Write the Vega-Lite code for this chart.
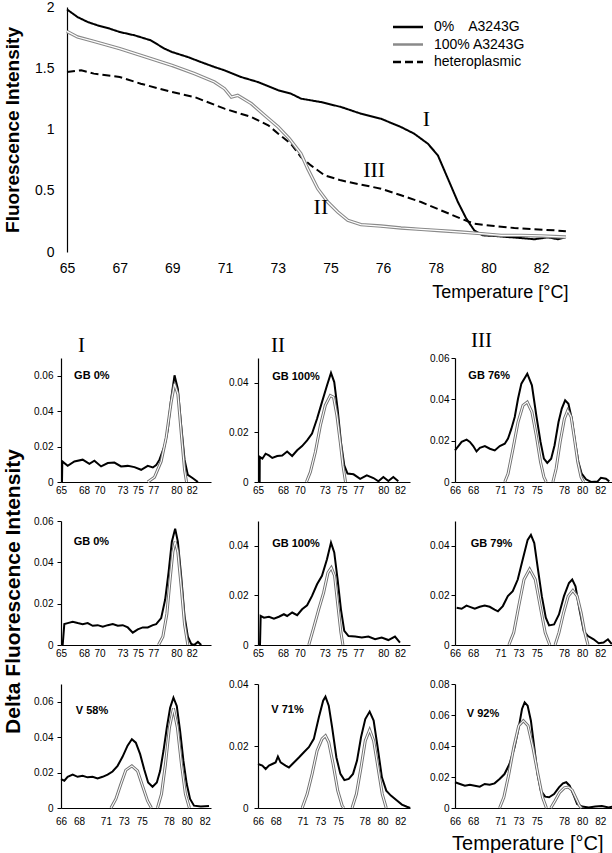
{
"$schema": "https://vega.github.io/schema/vega-lite/v6.json",
"background": "white",
"padding": {"left": 2, "top": 0, "right": 0, "bottom": 0},
"config": {
 "view": {"stroke": null},
 "font": "Liberation Sans",
 "axis": {"grid": false, "domainColor": "black", "domainWidth": 1.2, "labelColor": "black", "tickColor": "black", "titleColor": "black", "labelFont": "Liberation Sans", "titleFont": "Liberation Sans", "labelFlush": false, "labelOverlap": false},
 "axisX": {"ticks": false, "labelFontSize": 10, "labelPadding": 3},
 "axisY": {"tickSize": 4, "labelFontSize": 10, "labelPadding": 4},
 "title": {"color": "black"}
},
"datasets": {
 "top": [
  {"s":"\u20070%\u2002\u2002A3243G","i":0,"v":1.98},{"s":"\u20070%\u2002\u2002A3243G","i":0.2,"v":1.918},{"s":"\u20070%\u2002\u2002A3243G","i":0.39,"v":1.878},{"s":"\u20070%\u2002\u2002A3243G","i":0.58,"v":1.85},{"s":"\u20070%\u2002\u2002A3243G","i":0.77,"v":1.829},{"s":"\u20070%\u2002\u2002A3243G","i":1.0,"v":1.796},{"s":"\u20070%\u2002\u2002A3243G","i":1.28,"v":1.769},{"s":"\u20070%\u2002\u2002A3243G","i":1.59,"v":1.728},{"s":"\u20070%\u2002\u2002A3243G","i":1.85,"v":1.66},{"s":"\u20070%\u2002\u2002A3243G","i":1.99,"v":1.633},{"s":"\u20070%\u2002\u2002A3243G","i":2.29,"v":1.592},{"s":"\u20070%\u2002\u2002A3243G","i":2.54,"v":1.551},{"s":"\u20070%\u2002\u2002A3243G","i":2.8,"v":1.51},{"s":"\u20070%\u2002\u2002A3243G","i":2.99,"v":1.483},{"s":"\u20070%\u2002\u2002A3243G","i":3.3,"v":1.429},{"s":"\u20070%\u2002\u2002A3243G","i":3.62,"v":1.388},{"s":"\u20070%\u2002\u2002A3243G","i":4.01,"v":1.32},{"s":"\u20070%\u2002\u2002A3243G","i":4.25,"v":1.293},{"s":"\u20070%\u2002\u2002A3243G","i":4.44,"v":1.252},{"s":"\u20070%\u2002\u2002A3243G","i":4.82,"v":1.224},{"s":"\u20070%\u2002\u2002A3243G","i":5.2,"v":1.184},{"s":"\u20070%\u2002\u2002A3243G","i":5.58,"v":1.129},{"s":"\u20070%\u2002\u2002A3243G","i":5.96,"v":1.088},{"s":"\u20070%\u2002\u2002A3243G","i":6.34,"v":1.02},{"s":"\u20070%\u2002\u2002A3243G","i":6.59,"v":0.966},{"s":"\u20070%\u2002\u2002A3243G","i":6.85,"v":0.884},{"s":"\u20070%\u2002\u2002A3243G","i":7.04,"v":0.789},{"s":"\u20070%\u2002\u2002A3243G","i":7.23,"v":0.599},{"s":"\u20070%\u2002\u2002A3243G","i":7.42,"v":0.408},{"s":"\u20070%\u2002\u2002A3243G","i":7.58,"v":0.272},{"s":"\u20070%\u2002\u2002A3243G","i":7.73,"v":0.177},{"s":"\u20070%\u2002\u2002A3243G","i":7.89,"v":0.136},{"s":"\u20070%\u2002\u2002A3243G","i":8.11,"v":0.131},{"s":"\u20070%\u2002\u2002A3243G","i":8.37,"v":0.122},{"s":"\u20070%\u2002\u2002A3243G","i":8.62,"v":0.114},{"s":"\u20070%\u2002\u2002A3243G","i":8.87,"v":0.104},{"s":"\u20070%\u2002\u2002A3243G","i":9.13,"v":0.12},{"s":"\u20070%\u2002\u2002A3243G","i":9.32,"v":0.104},{"s":"\u20070%\u2002\u2002A3243G","i":9.47,"v":0.122},
  {"s":"100% A3243G","i":0,"v":1.801},{"s":"100% A3243G","i":0.2,"v":1.755},{"s":"100% A3243G","i":0.51,"v":1.72},{"s":"100% A3243G","i":1.0,"v":1.66},{"s":"100% A3243G","i":1.4,"v":1.605},{"s":"100% A3243G","i":1.99,"v":1.524},{"s":"100% A3243G","i":2.42,"v":1.456},{"s":"100% A3243G","i":2.8,"v":1.388},{"s":"100% A3243G","i":2.99,"v":1.333},{"s":"100% A3243G","i":3.12,"v":1.265},{"s":"100% A3243G","i":3.24,"v":1.279},{"s":"100% A3243G","i":3.5,"v":1.211},{"s":"100% A3243G","i":3.75,"v":1.116},{"s":"100% A3243G","i":4.01,"v":1.02},{"s":"100% A3243G","i":4.22,"v":0.925},{"s":"100% A3243G","i":4.44,"v":0.803},{"s":"100% A3243G","i":4.57,"v":0.68},{"s":"100% A3243G","i":4.76,"v":0.517},{"s":"100% A3243G","i":4.95,"v":0.408},{"s":"100% A3243G","i":5.14,"v":0.327},{"s":"100% A3243G","i":5.33,"v":0.259},{"s":"100% A3243G","i":5.58,"v":0.223},{"s":"100% A3243G","i":5.96,"v":0.212},{"s":"100% A3243G","i":6.34,"v":0.196},{"s":"100% A3243G","i":6.72,"v":0.185},{"s":"100% A3243G","i":7.1,"v":0.174},{"s":"100% A3243G","i":7.48,"v":0.163},{"s":"100% A3243G","i":7.86,"v":0.15},{"s":"100% A3243G","i":8.24,"v":0.136},{"s":"100% A3243G","i":8.62,"v":0.136},{"s":"100% A3243G","i":9.0,"v":0.131},{"s":"100% A3243G","i":9.47,"v":0.122},
  {"s":"heteroplasmic","i":0,"v":1.469},{"s":"heteroplasmic","i":0.27,"v":1.483},{"s":"heteroplasmic","i":0.51,"v":1.456},{"s":"heteroplasmic","i":1.0,"v":1.429},{"s":"heteroplasmic","i":1.4,"v":1.374},{"s":"heteroplasmic","i":1.99,"v":1.306},{"s":"heteroplasmic","i":2.42,"v":1.265},{"s":"heteroplasmic","i":2.99,"v":1.17},{"s":"heteroplasmic","i":3.5,"v":1.102},{"s":"heteroplasmic","i":3.82,"v":1.034},{"s":"heteroplasmic","i":4.01,"v":0.966},{"s":"heteroplasmic","i":4.25,"v":0.884},{"s":"heteroplasmic","i":4.44,"v":0.776},{"s":"heteroplasmic","i":4.63,"v":0.707},{"s":"heteroplasmic","i":4.89,"v":0.626},{"s":"heteroplasmic","i":5.2,"v":0.585},{"s":"heteroplasmic","i":5.58,"v":0.55},{"s":"heteroplasmic","i":5.96,"v":0.517},{"s":"heteroplasmic","i":6.34,"v":0.463},{"s":"heteroplasmic","i":6.72,"v":0.408},{"s":"heteroplasmic","i":7.1,"v":0.34},{"s":"heteroplasmic","i":7.48,"v":0.272},{"s":"heteroplasmic","i":7.73,"v":0.231},{"s":"heteroplasmic","i":8.11,"v":0.212},{"s":"heteroplasmic","i":8.49,"v":0.196},{"s":"heteroplasmic","i":8.87,"v":0.185},{"s":"heteroplasmic","i":9.25,"v":0.177},{"s":"heteroplasmic","i":9.47,"v":0.169}
 ],
 "p1": [
  {"c":"d","t":65.13,"v":0},{"c":"d","t":65.17,"v":0.0116},{"c":"d","t":65.87,"v":0.0091},{"c":"d","t":66.74,"v":0.0116},{"c":"d","t":67.82,"v":0.0126},{"c":"d","t":68.69,"v":0.0103},{"c":"d","t":69.34,"v":0.012},{"c":"d","t":70.21,"v":0.0088},{"c":"d","t":71.08,"v":0.0107},{"c":"d","t":71.94,"v":0.011},{"c":"d","t":72.81,"v":0.0088},{"c":"d","t":73.68,"v":0.0091},{"c":"d","t":74.55,"v":0.0084},{"c":"d","t":75.42,"v":0.0069},{"c":"d","t":76.28,"v":0.0091},{"c":"d","t":76.94,"v":0.0082},{"c":"d","t":77.37,"v":0.0095},{"c":"d","t":77.8,"v":0.0126},{"c":"d","t":78.45,"v":0.0202},{"c":"d","t":78.89,"v":0.0297},{"c":"d","t":79.32,"v":0.0469},{"c":"d","t":79.76,"v":0.0602},{"c":"d","t":80.19,"v":0.0526},{"c":"d","t":80.63,"v":0.0316},{"c":"d","t":81.06,"v":0.0126},{"c":"d","t":81.49,"v":0.004},{"c":"d","t":82.14,"v":0.0021},{"c":"d","t":82.8,"v":0},
  {"c":"f1","t":76.28,"v":0},{"c":"f1","t":77.15,"v":0.0027},{"c":"f1","t":78.02,"v":0.0116},{"c":"f1","t":78.67,"v":0.025},{"c":"f1","t":79.32,"v":0.045},{"c":"f1","t":79.76,"v":0.0554},{"c":"f1","t":80.19,"v":0.0497},{"c":"f1","t":80.63,"v":0.0278},{"c":"f1","t":81.06,"v":0.0069},{"c":"f1","t":81.32,"v":0}
 ],
 "p2": [
  {"c":"d","t":65.2,"v":0},{"c":"d","t":65.21,"v":0.0101},{"c":"d","t":65.52,"v":0.0094},{"c":"d","t":65.91,"v":0.0114},{"c":"d","t":66.31,"v":0.0107},{"c":"d","t":66.71,"v":0.0097},{"c":"d","t":67.3,"v":0.0105},{"c":"d","t":67.9,"v":0.0107},{"c":"d","t":68.49,"v":0.0123},{"c":"d","t":69.09,"v":0.0105},{"c":"d","t":69.69,"v":0.0128},{"c":"d","t":70.28,"v":0.0145},{"c":"d","t":70.88,"v":0.0168},{"c":"d","t":71.47,"v":0.0195},{"c":"d","t":72.07,"v":0.0255},{"c":"d","t":72.66,"v":0.0322},{"c":"d","t":73.26,"v":0.0389},{"c":"d","t":73.74,"v":0.044},{"c":"d","t":74.13,"v":0.0403},{"c":"d","t":74.53,"v":0.0295},{"c":"d","t":74.93,"v":0.0161},{"c":"d","t":75.33,"v":0.0067},{"c":"d","t":75.72,"v":0.0034},{"c":"d","t":76.44,"v":0.0031},{"c":"d","t":77.23,"v":0.0013},{"c":"d","t":78.03,"v":0.0027},{"c":"d","t":78.82,"v":0.0016},{"c":"d","t":79.42,"v":0.0003},{"c":"d","t":80.01,"v":0.002},{"c":"d","t":80.61,"v":0.0004},{"c":"d","t":81.2,"v":0.002},{"c":"d","t":81.8,"v":0.0003},
  {"c":"f1","t":70.8,"v":0},{"c":"f1","t":71.27,"v":0.004},{"c":"f1","t":71.87,"v":0.0121},{"c":"f1","t":72.47,"v":0.0228},{"c":"f1","t":73.06,"v":0.0309},{"c":"f1","t":73.66,"v":0.0349},{"c":"f1","t":74.05,"v":0.0342},{"c":"f1","t":74.45,"v":0.0268},{"c":"f1","t":74.85,"v":0.0161},{"c":"f1","t":75.17,"v":0.0067},{"c":"f1","t":75.48,"v":0}
 ],
 "p3": [
  {"c":"d","t":66,"v":0.0153},{"c":"d","t":66.37,"v":0.0174},{"c":"d","t":66.73,"v":0.0194},{"c":"d","t":67.28,"v":0.0205},{"c":"d","t":67.64,"v":0.0194},{"c":"d","t":68.01,"v":0.0174},{"c":"d","t":68.37,"v":0.0148},{"c":"d","t":68.74,"v":0.0165},{"c":"d","t":69.29,"v":0.0174},{"c":"d","t":69.84,"v":0.0161},{"c":"d","t":70.38,"v":0.0153},{"c":"d","t":70.93,"v":0.0174},{"c":"d","t":71.48,"v":0.0185},{"c":"d","t":71.84,"v":0.021},{"c":"d","t":72.21,"v":0.0258},{"c":"d","t":72.58,"v":0.0315},{"c":"d","t":72.94,"v":0.0403},{"c":"d","t":73.31,"v":0.0476},{"c":"d","t":73.96,"v":0.0524},{"c":"d","t":74.47,"v":0.0468},{"c":"d","t":74.95,"v":0.0323},{"c":"d","t":75.42,"v":0.0194},{"c":"d","t":75.79,"v":0.0113},{"c":"d","t":76.16,"v":0.0092},{"c":"d","t":76.59,"v":0.0113},{"c":"d","t":76.96,"v":0.0177},{"c":"d","t":77.4,"v":0.029},{"c":"d","t":77.76,"v":0.0355},{"c":"d","t":78.13,"v":0.0395},{"c":"d","t":78.49,"v":0.0379},{"c":"d","t":78.86,"v":0.0306},{"c":"d","t":79.22,"v":0.0194},{"c":"d","t":79.59,"v":0.0097},{"c":"d","t":79.95,"v":0.004},{"c":"d","t":80.43,"v":0.0013},{"c":"d","t":80.98,"v":0},{"c":"d","t":81.71,"v":0.0003},{"c":"d","t":82.07,"v":0.002},{"c":"d","t":82.62,"v":0.0016},{"c":"d","t":82.99,"v":0.0003},
  {"c":"f1","t":71.48,"v":0},{"c":"f1","t":71.84,"v":0.004},{"c":"f1","t":72.39,"v":0.0161},{"c":"f1","t":72.94,"v":0.029},{"c":"f1","t":73.49,"v":0.0371},{"c":"f1","t":73.96,"v":0.0387},{"c":"f1","t":74.47,"v":0.0339},{"c":"f1","t":74.95,"v":0.0226},{"c":"f1","t":75.42,"v":0.0097},{"c":"f1","t":75.79,"v":0.0024},{"c":"f1","t":76.05,"v":0},
  {"c":"f2","t":76.78,"v":0},{"c":"f2","t":77.14,"v":0.0065},{"c":"f2","t":77.58,"v":0.0194},{"c":"f2","t":78.05,"v":0.0306},{"c":"f2","t":78.42,"v":0.0347},{"c":"f2","t":78.79,"v":0.0315},{"c":"f2","t":79.15,"v":0.021},{"c":"f2","t":79.52,"v":0.0097},{"c":"f2","t":79.88,"v":0.0024},{"c":"f2","t":80.17,"v":0}
 ],
 "p4": [
  {"c":"d","t":65.22,"v":0},{"c":"d","t":65.43,"v":0.0101},{"c":"d","t":65.87,"v":0.0106},{"c":"d","t":66.52,"v":0.0112},{"c":"d","t":67.17,"v":0.0106},{"c":"d","t":67.82,"v":0.0101},{"c":"d","t":68.47,"v":0.0106},{"c":"d","t":69.12,"v":0.0093},{"c":"d","t":69.77,"v":0.0096},{"c":"d","t":70.43,"v":0.0089},{"c":"d","t":71.08,"v":0.0096},{"c":"d","t":71.73,"v":0.0101},{"c":"d","t":72.38,"v":0.0093},{"c":"d","t":73.03,"v":0.0096},{"c":"d","t":73.68,"v":0.0085},{"c":"d","t":74.33,"v":0.006},{"c":"d","t":74.98,"v":0.0076},{"c":"d","t":75.63,"v":0.0085},{"c":"d","t":76.28,"v":0.0085},{"c":"d","t":76.94,"v":0.0096},{"c":"d","t":77.37,"v":0.0101},{"c":"d","t":78.02,"v":0.013},{"c":"d","t":78.54,"v":0.022},{"c":"d","t":78.98,"v":0.035},{"c":"d","t":79.41,"v":0.05},{"c":"d","t":79.84,"v":0.0563},{"c":"d","t":80.19,"v":0.05},{"c":"d","t":80.63,"v":0.033},{"c":"d","t":81.06,"v":0.014},{"c":"d","t":81.49,"v":0.004},{"c":"d","t":81.93,"v":0.0005},{"c":"d","t":82.3,"v":0},{"c":"d","t":82.8,"v":0.0015},{"c":"d","t":83.23,"v":0},
  {"c":"f1","t":77.67,"v":0},{"c":"f1","t":78.24,"v":0.004},{"c":"f1","t":78.76,"v":0.015},{"c":"f1","t":79.19,"v":0.032},{"c":"f1","t":79.54,"v":0.045},{"c":"f1","t":79.84,"v":0.0502},{"c":"f1","t":80.19,"v":0.045},{"c":"f1","t":80.63,"v":0.028},{"c":"f1","t":81.06,"v":0.01},{"c":"f1","t":81.49,"v":0}
 ],
 "p5": [
  {"c":"d","t":65.24,"v":0},{"c":"d","t":65.32,"v":0.0117},{"c":"d","t":65.71,"v":0.011},{"c":"d","t":66.31,"v":0.0114},{"c":"d","t":66.91,"v":0.0106},{"c":"d","t":67.5,"v":0.0114},{"c":"d","t":68.1,"v":0.0124},{"c":"d","t":68.49,"v":0.0117},{"c":"d","t":69.09,"v":0.0131},{"c":"d","t":69.69,"v":0.012},{"c":"d","t":70.28,"v":0.0144},{"c":"d","t":70.88,"v":0.016},{"c":"d","t":71.47,"v":0.0198},{"c":"d","t":72.07,"v":0.0245},{"c":"d","t":72.66,"v":0.0279},{"c":"d","t":73.26,"v":0.0346},{"c":"d","t":73.74,"v":0.0413},{"c":"d","t":74.13,"v":0.0373},{"c":"d","t":74.53,"v":0.0265},{"c":"d","t":74.93,"v":0.0144},{"c":"d","t":75.33,"v":0.0057},{"c":"d","t":75.84,"v":0.0036},{"c":"d","t":76.64,"v":0.0034},{"c":"d","t":77.43,"v":0.003},{"c":"d","t":78.22,"v":0.0034},{"c":"d","t":79.02,"v":0.0023},{"c":"d","t":79.81,"v":0.003},{"c":"d","t":80.61,"v":0.002},{"c":"d","t":81.4,"v":0.0034},{"c":"d","t":82,"v":0.001},
  {"c":"f1","t":71.08,"v":0},{"c":"f1","t":71.67,"v":0.007},{"c":"f1","t":72.27,"v":0.0144},{"c":"f1","t":72.86,"v":0.0211},{"c":"f1","t":73.38,"v":0.0292},{"c":"f1","t":73.78,"v":0.0312},{"c":"f1","t":74.17,"v":0.0279},{"c":"f1","t":74.57,"v":0.0158},{"c":"f1","t":74.93,"v":0.005},{"c":"f1","t":75.17,"v":0}
 ],
 "p6": [
  {"c":"d","t":66.18,"v":0.015},{"c":"d","t":66.73,"v":0.0146},{"c":"d","t":67.27,"v":0.0159},{"c":"d","t":67.64,"v":0.0154},{"c":"d","t":68.18,"v":0.0146},{"c":"d","t":68.73,"v":0.0154},{"c":"d","t":69.27,"v":0.0159},{"c":"d","t":69.82,"v":0.0154},{"c":"d","t":70.36,"v":0.0143},{"c":"d","t":70.73,"v":0.0136},{"c":"d","t":71.27,"v":0.0157},{"c":"d","t":71.82,"v":0.0197},{"c":"d","t":72.36,"v":0.0217},{"c":"d","t":72.91,"v":0.0264},{"c":"d","t":73.45,"v":0.0344},{"c":"d","t":74,"v":0.0424},{"c":"d","t":74.36,"v":0.0444},{"c":"d","t":74.73,"v":0.0411},{"c":"d","t":75.09,"v":0.0317},{"c":"d","t":75.56,"v":0.0197},{"c":"d","t":76,"v":0.011},{"c":"d","t":76.36,"v":0.0079},{"c":"d","t":76.91,"v":0.0083},{"c":"d","t":77.45,"v":0.0123},{"c":"d","t":78,"v":0.0197},{"c":"d","t":78.55,"v":0.025},{"c":"d","t":78.91,"v":0.0264},{"c":"d","t":79.27,"v":0.0237},{"c":"d","t":79.71,"v":0.0143},{"c":"d","t":80.18,"v":0.0056},{"c":"d","t":80.65,"v":0.0036},{"c":"d","t":81.27,"v":0.0023},{"c":"d","t":81.82,"v":0.0007},{"c":"d","t":82.36,"v":0.001},{"c":"d","t":82.84,"v":0.0023},{"c":"d","t":83.27,"v":0.0003},
  {"c":"f1","t":71.93,"v":0},{"c":"f1","t":72.47,"v":0.005},{"c":"f1","t":73.02,"v":0.0157},{"c":"f1","t":73.6,"v":0.0264},{"c":"f1","t":74.22,"v":0.0306},{"c":"f1","t":74.84,"v":0.0264},{"c":"f1","t":75.38,"v":0.0157},{"c":"f1","t":75.93,"v":0.005},{"c":"f1","t":76.44,"v":0},
  {"c":"f2","t":77.02,"v":0},{"c":"f2","t":77.45,"v":0.005},{"c":"f2","t":77.96,"v":0.013},{"c":"f2","t":78.47,"v":0.0197},{"c":"f2","t":78.98,"v":0.022},{"c":"f2","t":79.45,"v":0.0197},{"c":"f2","t":79.89,"v":0.013},{"c":"f2","t":80.29,"v":0.005},{"c":"f2","t":80.65,"v":0}
 ],
 "p7": [
  {"c":"d","t":66,"v":0.0163},{"c":"d","t":66.37,"v":0.0154},{"c":"d","t":66.74,"v":0.0176},{"c":"d","t":67.3,"v":0.0188},{"c":"d","t":67.85,"v":0.0176},{"c":"d","t":68.41,"v":0.0182},{"c":"d","t":68.96,"v":0.0173},{"c":"d","t":69.52,"v":0.0176},{"c":"d","t":70.07,"v":0.0167},{"c":"d","t":70.63,"v":0.0176},{"c":"d","t":71.19,"v":0.0188},{"c":"d","t":71.74,"v":0.0206},{"c":"d","t":72.3,"v":0.0238},{"c":"d","t":72.85,"v":0.0289},{"c":"d","t":73.41,"v":0.0352},{"c":"d","t":73.89,"v":0.0388},{"c":"d","t":74.33,"v":0.0369},{"c":"d","t":74.81,"v":0.0304},{"c":"d","t":75.26,"v":0.0219},{"c":"d","t":75.7,"v":0.0144},{"c":"d","t":76.19,"v":0.012},{"c":"d","t":76.67,"v":0.0144},{"c":"d","t":77.04,"v":0.021},{"c":"d","t":77.41,"v":0.0323},{"c":"d","t":77.78,"v":0.0454},{"c":"d","t":78.15,"v":0.0566},{"c":"d","t":78.52,"v":0.0623},{"c":"d","t":78.89,"v":0.0576},{"c":"d","t":79.26,"v":0.0435},{"c":"d","t":79.63,"v":0.0266},{"c":"d","t":80,"v":0.0135},{"c":"d","t":80.37,"v":0.0051},{"c":"d","t":80.81,"v":0.0013},{"c":"d","t":81.56,"v":0.0008},{"c":"d","t":82.48,"v":0.0011},
  {"c":"f1","t":71.56,"v":0},{"c":"f1","t":72.11,"v":0.0051},{"c":"f1","t":72.67,"v":0.0135},{"c":"f1","t":73.22,"v":0.0214},{"c":"f1","t":73.89,"v":0.0238},{"c":"f1","t":74.52,"v":0.021},{"c":"f1","t":75.07,"v":0.0126},{"c":"f1","t":75.63,"v":0.0041},{"c":"f1","t":76.07,"v":0},
  {"c":"f2","t":76.74,"v":0},{"c":"f2","t":77.19,"v":0.0079},{"c":"f2","t":77.63,"v":0.0248},{"c":"f2","t":78.07,"v":0.0454},{"c":"f2","t":78.52,"v":0.0563},{"c":"f2","t":78.96,"v":0.0454},{"c":"f2","t":79.41,"v":0.0248},{"c":"f2","t":79.85,"v":0.0079},{"c":"f2","t":80.3,"v":0}
 ],
 "p8": [
  {"c":"d","t":66,"v":0.0142},{"c":"d","t":66.49,"v":0.0137},{"c":"d","t":66.86,"v":0.0126},{"c":"d","t":67.23,"v":0.0137},{"c":"d","t":67.61,"v":0.0142},{"c":"d","t":67.98,"v":0.0147},{"c":"d","t":68.24,"v":0.0166},{"c":"d","t":68.54,"v":0.0147},{"c":"d","t":69.1,"v":0.0137},{"c":"d","t":69.48,"v":0.0131},{"c":"d","t":70.04,"v":0.0147},{"c":"d","t":70.6,"v":0.0163},{"c":"d","t":71.16,"v":0.018},{"c":"d","t":71.72,"v":0.0196},{"c":"d","t":72.28,"v":0.0223},{"c":"d","t":72.84,"v":0.0292},{"c":"d","t":73.33,"v":0.0346},{"c":"d","t":73.59,"v":0.0359},{"c":"d","t":73.96,"v":0.033},{"c":"d","t":74.34,"v":0.026},{"c":"d","t":74.82,"v":0.0163},{"c":"d","t":75.27,"v":0.011},{"c":"d","t":75.72,"v":0.009},{"c":"d","t":76.21,"v":0.0094},{"c":"d","t":76.69,"v":0.011},{"c":"d","t":77.14,"v":0.0153},{"c":"d","t":77.59,"v":0.0228},{"c":"d","t":78.07,"v":0.0287},{"c":"d","t":78.56,"v":0.0311},{"c":"d","t":79.01,"v":0.0282},{"c":"d","t":79.46,"v":0.0196},{"c":"d","t":79.94,"v":0.0099},{"c":"d","t":80.43,"v":0.0056},{"c":"d","t":80.95,"v":0.004},{"c":"d","t":81.63,"v":0.0024},{"c":"d","t":82.19,"v":0.0011},{"c":"d","t":82.75,"v":0.0004},{"c":"d","t":83.12,"v":0},
  {"c":"f1","t":70.97,"v":0},{"c":"f1","t":71.53,"v":0.0045},{"c":"f1","t":72.09,"v":0.011},{"c":"f1","t":72.65,"v":0.0185},{"c":"f1","t":73.21,"v":0.0223},{"c":"f1","t":73.59,"v":0.0233},{"c":"f1","t":73.96,"v":0.0212},{"c":"f1","t":74.45,"v":0.0142},{"c":"f1","t":74.97,"v":0.0056},{"c":"f1","t":75.46,"v":0.0008},{"c":"f1","t":75.64,"v":0},
  {"c":"f2","t":76.58,"v":0},{"c":"f2","t":77.07,"v":0.0045},{"c":"f2","t":77.59,"v":0.0131},{"c":"f2","t":78.07,"v":0.0217},{"c":"f2","t":78.56,"v":0.0252},{"c":"f2","t":79.01,"v":0.0217},{"c":"f2","t":79.5,"v":0.0131},{"c":"f2","t":79.98,"v":0.0045},{"c":"f2","t":80.43,"v":0}
 ],
 "p9": [
  {"c":"d","t":66,"v":0.0166},{"c":"d","t":66.55,"v":0.0155},{"c":"d","t":67.09,"v":0.0144},{"c":"d","t":67.64,"v":0.015},{"c":"d","t":68.18,"v":0.0144},{"c":"d","t":68.73,"v":0.0138},{"c":"d","t":69.27,"v":0.0155},{"c":"d","t":69.82,"v":0.015},{"c":"d","t":70.36,"v":0.0159},{"c":"d","t":70.91,"v":0.0187},{"c":"d","t":71.45,"v":0.0219},{"c":"d","t":72,"v":0.0284},{"c":"d","t":72.55,"v":0.0391},{"c":"d","t":73.02,"v":0.052},{"c":"d","t":73.38,"v":0.0639},{"c":"d","t":73.67,"v":0.0682},{"c":"d","t":74,"v":0.066},{"c":"d","t":74.36,"v":0.0563},{"c":"d","t":74.73,"v":0.0391},{"c":"d","t":75.09,"v":0.0219},{"c":"d","t":75.45,"v":0.0112},{"c":"d","t":75.93,"v":0.0073},{"c":"d","t":76.36,"v":0.0069},{"c":"d","t":76.91,"v":0.009},{"c":"d","t":77.45,"v":0.0133},{"c":"d","t":77.89,"v":0.0159},{"c":"d","t":78.25,"v":0.0166},{"c":"d","t":78.62,"v":0.0144},{"c":"d","t":79.09,"v":0.008},{"c":"d","t":79.45,"v":0.0026},{"c":"d","t":80,"v":0.0009},{"c":"d","t":80.73,"v":0.0004},{"c":"d","t":81.45,"v":0.0009},{"c":"d","t":82.18,"v":0.0013},{"c":"d","t":82.91,"v":0.0004},{"c":"d","t":83.35,"v":0.0009},
  {"c":"f1","t":70.91,"v":0},{"c":"f1","t":71.38,"v":0.0069},{"c":"f1","t":71.93,"v":0.0219},{"c":"f1","t":72.47,"v":0.0391},{"c":"f1","t":73.02,"v":0.0531},{"c":"f1","t":73.53,"v":0.0563},{"c":"f1","t":74.04,"v":0.0531},{"c":"f1","t":74.58,"v":0.0391},{"c":"f1","t":75.13,"v":0.0219},{"c":"f1","t":75.64,"v":0.0069},{"c":"f1","t":76.07,"v":0},
  {"c":"f2","t":76.55,"v":0},{"c":"f2","t":77.02,"v":0.0047},{"c":"f2","t":77.53,"v":0.0101},{"c":"f2","t":78.04,"v":0.013},{"c":"f2","t":78.47,"v":0.0135},{"c":"f2","t":78.91,"v":0.0115},{"c":"f2","t":79.35,"v":0.006},{"c":"f2","t":79.71,"v":0.0015},{"c":"f2","t":79.93,"v":0}
 ]
},
"columns": 1,
"spacing": 29,
"concat": [
 {
  "width": 507, "height": 245,
  "data": {"name": "top"},
  "encoding": {
   "x": {"field": "i", "type": "quantitative", "scale": {"domain": [-0.114, 9.51], "nice": false, "zero": false},
    "axis": {"title": "Temperature [°C]", "titleAnchor": "end", "titleFontSize": 18, "titleFontWeight": "normal", "titlePadding": 8, "values": [0,1,2,3,4,5,6,7,8,9], "labelExpr": "['65','67','69','71','73','75','76','78','80','82'][datum.value]", "labelFontSize": 14, "labelPadding": 9, "domain": false}},
   "y": {"field": "v", "type": "quantitative", "scale": {"domain": [0, 2], "nice": false},
    "axis": {"title": "Fluorescence Intensity", "titleFontSize": 19, "titleFontWeight": "bold", "titlePadding": 12, "values": [0,0.5,1,1.5,2], "format": "~g", "ticks": false, "labelFontSize": 14, "labelPadding": 13, "offset": -6}}
  },
  "layer": [
   {"data": {"values": [{}]}, "mark": {"type": "rule", "color": "black", "strokeWidth": 1.2},
    "encoding": {"x": {"datum": 0}, "x2": {"datum": 9.51}, "y": {"datum": 0}}},
   {"mark": {"type": "line", "strokeWidth": 2},
    "encoding": {
     "color": {"field": "s", "type": "nominal", "scale": {"domain": ["\u20070%\u2002\u2002A3243G", "100% A3243G", "heteroplasmic"], "range": ["black", "#8a8a8a", "black"]},
      "legend": {"orient": "none", "legendX": 338, "legendY": 11, "title": null, "symbolType": "M-2,0H2", "symbolSize": 225, "symbolStrokeWidth": 2.5, "labelFontSize": 14, "labelFont": "Liberation Sans", "labelColor": "black", "labelOffset": 17, "rowPadding": 1.5, "padding": 0}},
     "strokeDash": {"field": "s", "type": "nominal", "scale": {"domain": ["\u20070%\u2002\u2002A3243G", "100% A3243G", "heteroplasmic"], "range": [[1,0],[1,0],[8,4]]}}
    }},
   {"transform": [{"filter": "datum.s == '100% A3243G'"}], "mark": {"type": "line", "stroke": "#8a8a8a", "strokeWidth": 3.4}},
   {"transform": [{"filter": "datum.s == '100% A3243G'"}], "mark": {"type": "line", "stroke": "white", "strokeWidth": 1.2}},
   {"data": {"values": [{"i": 6.82, "v": 1.086, "lab": "I"}, {"i": 5.83, "v": 0.67, "lab": "III"}, {"i": 4.82, "v": 0.367, "lab": "II"}]},
    "mark": {"type": "text", "font": "Liberation Serif", "fontSize": 22, "color": "black"},
    "encoding": {"text": {"field": "lab"}}}
  ]
 },
 {
  "columns": 3,
  "spacing": {"column": 14, "row": 21},
  "title": {"text": "Delta Fluorescence Intensity", "orient": "left", "anchor": "middle", "fontSize": 21, "fontWeight": "bold", "offset": 10, "font": "Liberation Sans"},
  "concat": [
   {"width": 150, "height": 124, "data": {"name": "p1"},
    "title": {"text": "I", "anchor": "start", "frame": "group", "dx": 17, "offset": 2, "font": "Liberation Serif", "fontSize": 21, "fontWeight": "normal"},
    "encoding": {"x": {"field": "t", "type": "quantitative", "scale": {"domain": [65, 84.5], "nice": false, "zero": false}, "axis": {"values": [65,68,70,73,75,77,80,82], "title": null}},
     "y": {"field": "v", "type": "quantitative", "scale": {"domain": [0, 0.07], "nice": false}, "axis": {"values": [0,0.02,0.04,0.06], "format": "~g", "title": null, "labelPadding": 4}}},
    "layer": [
     {"transform": [{"filter": "datum.c == 'd'"}], "mark": {"type": "line", "color": "black", "strokeWidth": 2}},
     {"transform": [{"filter": "datum.c != 'd'"}], "mark": {"type": "line", "color": "#707070", "strokeWidth": 3}, "encoding": {"detail": {"field": "c"}}},
     {"transform": [{"filter": "datum.c != 'd'"}], "mark": {"type": "line", "color": "white", "strokeWidth": 1.1}, "encoding": {"detail": {"field": "c"}}},
     {"data": {"values": [{"t": 66.7, "v": 0.06, "lab": "GB 0%"}]}, "mark": {"type": "text", "align": "left", "fontWeight": "bold", "fontSize": 11, "color": "black"}, "encoding": {"text": {"field": "lab"}}}
    ]},
   {"width": 152, "height": 124, "data": {"name": "p2"},
    "title": {"text": "II", "anchor": "start", "frame": "group", "dx": 13, "offset": 2, "font": "Liberation Serif", "fontSize": 21, "fontWeight": "normal"},
    "encoding": {"x": {"field": "t", "type": "quantitative", "scale": {"domain": [65, 83.2], "nice": false, "zero": false}, "axis": {"values": [65,68,70,73,75,77,80,82], "title": null}},
     "y": {"field": "v", "type": "quantitative", "scale": {"domain": [0, 0.05], "nice": false}, "axis": {"values": [0,0.02,0.04], "format": "~g", "title": null, "labelPadding": 6}}},
    "layer": [
     {"transform": [{"filter": "datum.c == 'd'"}], "mark": {"type": "line", "color": "black", "strokeWidth": 2}},
     {"transform": [{"filter": "datum.c != 'd'"}], "mark": {"type": "line", "color": "#707070", "strokeWidth": 3}, "encoding": {"detail": {"field": "c"}}},
     {"transform": [{"filter": "datum.c != 'd'"}], "mark": {"type": "line", "color": "white", "strokeWidth": 1.1}, "encoding": {"detail": {"field": "c"}}},
     {"data": {"values": [{"t": 66.7, "v": 0.0424, "lab": "GB 100%"}]}, "mark": {"type": "text", "align": "left", "fontWeight": "bold", "fontSize": 11, "color": "black"}, "encoding": {"text": {"field": "lab"}}}
    ]},
   {"width": 158, "height": 124, "data": {"name": "p3"},
    "title": {"text": "III", "anchor": "start", "frame": "group", "dx": 16, "offset": 2, "font": "Liberation Serif", "fontSize": 21, "fontWeight": "normal"},
    "encoding": {"x": {"field": "t", "type": "quantitative", "scale": {"domain": [66, 83.4], "nice": false, "zero": false}, "axis": {"values": [66,68,71,73,75,78,80,82], "title": null}},
     "y": {"field": "v", "type": "quantitative", "scale": {"domain": [0, 0.06], "nice": false}, "axis": {"values": [0,0.02,0.04,0.06], "format": "~g", "title": null, "labelPadding": 2}}},
    "layer": [
     {"transform": [{"filter": "datum.c == 'd'"}], "mark": {"type": "line", "color": "black", "strokeWidth": 2}},
     {"transform": [{"filter": "datum.c != 'd'"}], "mark": {"type": "line", "color": "#707070", "strokeWidth": 3}, "encoding": {"detail": {"field": "c"}}},
     {"transform": [{"filter": "datum.c != 'd'"}], "mark": {"type": "line", "color": "white", "strokeWidth": 1.1}, "encoding": {"detail": {"field": "c"}}},
     {"data": {"values": [{"t": 67.47, "v": 0.0512, "lab": "GB 76%"}]}, "mark": {"type": "text", "align": "left", "fontWeight": "bold", "fontSize": 11, "color": "black"}, "encoding": {"text": {"field": "lab"}}}
    ]},
   {"width": 150, "height": 124, "data": {"name": "p4"},
    "encoding": {"x": {"field": "t", "type": "quantitative", "scale": {"domain": [65, 84.5], "nice": false, "zero": false}, "axis": {"values": [65,68,70,73,75,77,80,82], "title": null}},
     "y": {"field": "v", "type": "quantitative", "scale": {"domain": [0, 0.06], "nice": false}, "axis": {"values": [0,0.02,0.04,0.06], "format": "~g", "title": null, "labelPadding": 4}}},
    "layer": [
     {"transform": [{"filter": "datum.c == 'd'"}], "mark": {"type": "line", "color": "black", "strokeWidth": 2}},
     {"transform": [{"filter": "datum.c != 'd'"}], "mark": {"type": "line", "color": "#707070", "strokeWidth": 3}, "encoding": {"detail": {"field": "c"}}},
     {"transform": [{"filter": "datum.c != 'd'"}], "mark": {"type": "line", "color": "white", "strokeWidth": 1.1}, "encoding": {"detail": {"field": "c"}}},
     {"data": {"values": [{"t": 66.65, "v": 0.0498, "lab": "GB 0%"}]}, "mark": {"type": "text", "align": "left", "fontWeight": "bold", "fontSize": 11, "color": "black"}, "encoding": {"text": {"field": "lab"}}}
    ]},
   {"width": 152, "height": 124, "data": {"name": "p5"},
    "encoding": {"x": {"field": "t", "type": "quantitative", "scale": {"domain": [65, 83.2], "nice": false, "zero": false}, "axis": {"values": [65,68,70,73,75,77,80,82], "title": null}},
     "y": {"field": "v", "type": "quantitative", "scale": {"domain": [0, 0.05], "nice": false}, "axis": {"values": [0,0.02,0.04], "format": "~g", "title": null, "labelPadding": 6}}},
    "layer": [
     {"transform": [{"filter": "datum.c == 'd'"}], "mark": {"type": "line", "color": "black", "strokeWidth": 2}},
     {"transform": [{"filter": "datum.c != 'd'"}], "mark": {"type": "line", "color": "#707070", "strokeWidth": 3}, "encoding": {"detail": {"field": "c"}}},
     {"transform": [{"filter": "datum.c != 'd'"}], "mark": {"type": "line", "color": "white", "strokeWidth": 1.1}, "encoding": {"detail": {"field": "c"}}},
     {"data": {"values": [{"t": 66.7, "v": 0.0408, "lab": "GB 100%"}]}, "mark": {"type": "text", "align": "left", "fontWeight": "bold", "fontSize": 11, "color": "black"}, "encoding": {"text": {"field": "lab"}}}
    ]},
   {"width": 158, "height": 124, "data": {"name": "p6"},
    "encoding": {"x": {"field": "t", "type": "quantitative", "scale": {"domain": [66, 83.4], "nice": false, "zero": false}, "axis": {"values": [66,68,71,73,75,78,80,82], "title": null}},
     "y": {"field": "v", "type": "quantitative", "scale": {"domain": [0, 0.05], "nice": false}, "axis": {"values": [0,0.02,0.04], "format": "~g", "title": null, "labelPadding": 2}}},
    "layer": [
     {"transform": [{"filter": "datum.c == 'd'"}], "mark": {"type": "line", "color": "black", "strokeWidth": 2}},
     {"transform": [{"filter": "datum.c != 'd'"}], "mark": {"type": "line", "color": "#707070", "strokeWidth": 3}, "encoding": {"detail": {"field": "c"}}},
     {"transform": [{"filter": "datum.c != 'd'"}], "mark": {"type": "line", "color": "white", "strokeWidth": 1.1}, "encoding": {"detail": {"field": "c"}}},
     {"data": {"values": [{"t": 67.74, "v": 0.0408, "lab": "GB 79%"}]}, "mark": {"type": "text", "align": "left", "fontWeight": "bold", "fontSize": 11, "color": "black"}, "encoding": {"text": {"field": "lab"}}}
    ]},
   {"width": 150, "height": 124, "data": {"name": "p7"},
    "encoding": {"x": {"field": "t", "type": "quantitative", "scale": {"domain": [66, 82.7], "nice": false, "zero": false}, "axis": {"values": [66,68,71,73,75,78,80,82], "title": null, "labelPadding": 8}},
     "y": {"field": "v", "type": "quantitative", "scale": {"domain": [0, 0.07], "nice": false}, "axis": {"values": [0,0.02,0.04,0.06], "format": "~g", "title": null, "labelPadding": 4}}},
    "layer": [
     {"transform": [{"filter": "datum.c == 'd'"}], "mark": {"type": "line", "color": "black", "strokeWidth": 2}},
     {"transform": [{"filter": "datum.c != 'd'"}], "mark": {"type": "line", "color": "#707070", "strokeWidth": 3}, "encoding": {"detail": {"field": "c"}}},
     {"transform": [{"filter": "datum.c != 'd'"}], "mark": {"type": "line", "color": "white", "strokeWidth": 1.1}, "encoding": {"detail": {"field": "c"}}},
     {"data": {"values": [{"t": 67.65, "v": 0.0549, "lab": "V 58%"}]}, "mark": {"type": "text", "align": "left", "fontWeight": "bold", "fontSize": 11, "color": "black"}, "encoding": {"text": {"field": "lab"}}}
    ]},
   {"width": 152, "height": 124, "data": {"name": "p8"},
    "encoding": {"x": {"field": "t", "type": "quantitative", "scale": {"domain": [66, 83.1], "nice": false, "zero": false}, "axis": {"values": [66,68,71,73,75,78,80,82], "title": null, "labelPadding": 8}},
     "y": {"field": "v", "type": "quantitative", "scale": {"domain": [0, 0.04], "nice": false}, "axis": {"values": [0,0.02,0.04], "format": "~g", "title": null, "labelPadding": 6}}},
    "layer": [
     {"transform": [{"filter": "datum.c == 'd'"}], "mark": {"type": "line", "color": "black", "strokeWidth": 2}},
     {"transform": [{"filter": "datum.c != 'd'"}], "mark": {"type": "line", "color": "#707070", "strokeWidth": 3}, "encoding": {"detail": {"field": "c"}}},
     {"transform": [{"filter": "datum.c != 'd'"}], "mark": {"type": "line", "color": "white", "strokeWidth": 1.1}, "encoding": {"detail": {"field": "c"}}},
     {"data": {"values": [{"t": 67.5, "v": 0.0316, "lab": "V 71%"}]}, "mark": {"type": "text", "align": "left", "fontWeight": "bold", "fontSize": 11, "color": "black"}, "encoding": {"text": {"field": "lab"}}}
    ]},
   {"width": 158, "height": 124, "data": {"name": "p9"},
    "encoding": {"x": {"field": "t", "type": "quantitative", "scale": {"domain": [66, 83.4], "nice": false, "zero": false}, "axis": {"values": [66,68,71,73,75,78,80,82], "title": "Temperature [°C]", "titleFontSize": 20, "titleFontWeight": "normal", "titleX": 148, "titleAlign": "right", "titlePadding": 7, "labelPadding": 8}},
     "y": {"field": "v", "type": "quantitative", "scale": {"domain": [0, 0.08], "nice": false}, "axis": {"values": [0,0.02,0.04,0.06,0.08], "format": "~g", "title": null, "labelPadding": 2}}},
    "layer": [
     {"transform": [{"filter": "datum.c == 'd'"}], "mark": {"type": "line", "color": "black", "strokeWidth": 2}},
     {"transform": [{"filter": "datum.c != 'd'"}], "mark": {"type": "line", "color": "#707070", "strokeWidth": 3}, "encoding": {"detail": {"field": "c"}}},
     {"transform": [{"filter": "datum.c != 'd'"}], "mark": {"type": "line", "color": "white", "strokeWidth": 1.1}, "encoding": {"detail": {"field": "c"}}},
     {"data": {"values": [{"t": 67.3, "v": 0.0606, "lab": "V 92%"}]}, "mark": {"type": "text", "align": "left", "fontWeight": "bold", "fontSize": 11, "color": "black"}, "encoding": {"text": {"field": "lab"}}}
    ]}
  ]
 }
]
}
